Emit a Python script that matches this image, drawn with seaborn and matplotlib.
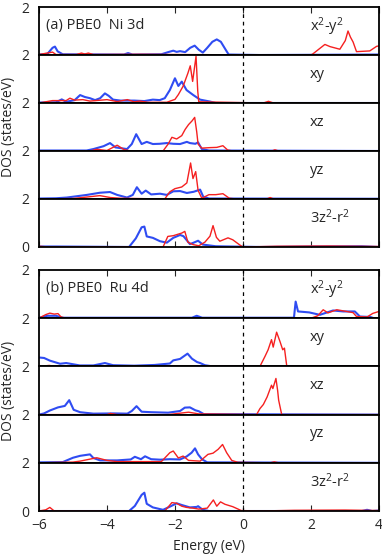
import numpy as np
import pandas as pd
import matplotlib
matplotlib.use('Agg')
import matplotlib.pyplot as plt
import seaborn as sns

# energy (eV), DOS (states/eV) knots
ni_x2y2_blue = [(-6, 0.02), (-5.75, 0.05), (-5.6, 0.3), (-5.53, 0.35), (-5.45, 0.15), (-5.3, 0.03),
                (-3.5, 0.02), (-3.38, 0.08), (-3.25, 0.02), (-2.4, 0.03), (-2.2, 0.12), (-2.05, 0.18),
                (-1.95, 0.13), (-1.85, 0.16), (-1.7, 0.12), (-1.55, 0.3), (-1.42, 0.39), (-1.3, 0.22),
                (-1.18, 0.1), (-1.05, 0.3), (-0.9, 0.55), (-0.77, 0.65), (-0.65, 0.55), (-0.5, 0.2),
                (-0.42, 0.02), (0.5, 0.0), (4, 0.02)]
ni_x2y2_red = [(-6, 0.02), (-5.6, 0.12), (-5.5, 0.02), (-4.9, 0.02), (-4.75, 0.08), (-4.65, 0.04),
               (-4.55, 0.08), (-4.4, 0.02), (-3.0, 0.03), (-2.0, 0.02), (-0.5, 0.01), (2.0, 0.0),
               (2.06, 0.05), (2.41, 0.44), (2.56, 0.35), (2.85, 0.24), (3.01, 0.6), (3.09, 1.0),
               (3.16, 0.75), (3.24, 0.54), (3.34, 0.14), (3.73, 0.17), (3.93, 0.36), (4.0, 0.38)]

ni_xy_blue = [(-6, 0.02), (-5.5, 0.03), (-5.33, 0.15), (-5.2, 0.05), (-4.95, 0.12), (-4.79, 0.33),
              (-4.65, 0.25), (-4.5, 0.2), (-4.35, 0.12), (-4.2, 0.2), (-4.06, 0.4), (-3.95, 0.3),
              (-3.82, 0.14), (-3.6, 0.1), (-3.2, 0.1), (-2.9, 0.08), (-2.65, 0.14), (-2.45, 0.12),
              (-2.3, 0.2), (-2.15, 0.54), (-2.0, 1.03), (-1.9, 0.71), (-1.8, 0.89), (-1.66, 0.54),
              (-1.46, 0.33), (-1.26, 0.14), (-0.97, 0.06), (-0.8, 0.0), (4.0, 0.0)]
ni_xy_red = [(-6, 0.0), (-5.6, 0.1), (-5.2, 0.1), (-5.09, 0.2), (-4.95, 0.12), (-4.71, 0.14),
             (-4.5, 0.08), (-4.0, 0.14), (-3.7, 0.06), (-3.4, 0.14), (-3.2, 0.05), (-3.03, 0.08),
             (-2.8, 0.03), (-2.24, 0.03), (-2.0, 0.15), (-1.9, 0.35), (-1.76, 0.7), (-1.62, 1.24),
             (-1.55, 1.55), (-1.48, 0.9), (-1.38, 1.95), (-1.33, 0.5), (-1.3, 0.05), (0.6, 0.0),
             (0.75, 0.07), (0.9, 0.0), (4.0, 0.0)]

ni_xz_blue = [(-6, 0.02), (-4.6, 0.02), (-4.4, 0.08), (-4.1, 0.2), (-3.91, 0.33), (-3.75, 0.15),
              (-3.41, 0.08), (-3.27, 0.29), (-3.14, 0.7), (-2.98, 0.29), (-2.83, 0.38), (-2.65, 0.29),
              (-2.45, 0.3), (-2.24, 0.33), (-2.05, 0.3), (-1.85, 0.29), (-1.65, 0.38), (-1.56, 0.33),
              (-1.4, 0.3), (-1.32, 0.36), (-1.21, 0.08), (-1.0, 0.02), (4, 0.0)]
ni_xz_red = [(-6, 0.0), (-4.5, 0.0), (-4.3, 0.07), (-4.0, 0.02), (-3.7, 0.24), (-3.5, 0.06),
             (-3.3, 0.0), (-2.35, 0.0), (-2.2, 0.29), (-2.09, 0.57), (-1.95, 0.5), (-1.8, 0.64),
             (-1.7, 0.9), (-1.6, 1.1), (-1.5, 1.25), (-1.42, 1.4), (-1.36, 0.8), (-1.32, 0.29),
             (-1.21, 0.12), (-0.97, 0.14), (-0.77, 0.15), (-0.59, 0.22), (-0.45, 0.04), (-0.3, 0.0),
             (0.85, 0.0), (0.94, 0.05), (1.05, 0.0), (4, 0.0)]

ni_yz_blue = [(-6, 0.02), (-5.5, 0.03), (-5.18, 0.06), (-4.59, 0.17), (-4.21, 0.26), (-3.91, 0.29),
              (-3.7, 0.17), (-3.41, 0.06), (-3.24, 0.17), (-3.12, 0.49), (-2.98, 0.22), (-2.86, 0.35),
              (-2.7, 0.19), (-2.44, 0.22), (-2.24, 0.17), (-2.05, 0.32), (-1.85, 0.33), (-1.65, 0.25),
              (-1.45, 0.3), (-1.26, 0.39), (-1.17, 0.1), (-1.0, 0.02), (4, 0.01)]
ni_yz_red = [(-6, 0.0), (-5.0, 0.02), (-4.6, 0.08), (-4.21, 0.14), (-3.9, 0.06), (-3.6, 0.03),
             (-2.3, 0.0), (-2.15, 0.3), (-2.0, 0.43), (-1.8, 0.5), (-1.65, 0.67), (-1.54, 1.5),
             (-1.47, 0.85), (-1.39, 1.14), (-1.32, 0.36), (-1.21, 0.03), (-1.0, 0.18), (-0.8, 0.18),
             (-0.59, 0.22), (-0.4, 0.03), (-0.2, 0.0), (0.7, 0.0), (0.8, 0.06), (0.9, 0.0), (4, 0.0)]

ni_z2_blue = [(-6, 0.02), (-5.5, 0.02), (-3.35, 0.0), (-3.15, 0.36), (-2.98, 0.82), (-2.9, 0.85),
              (-2.83, 0.44), (-2.65, 0.38), (-2.44, 0.24), (-2.24, 0.18), (-2.05, 0.38), (-1.85, 0.5),
              (-1.75, 0.45), (-1.56, 0.12), (-1.45, 0.18), (-1.32, 0.26), (-1.18, 0.1), (-0.8, 0.03),
              (0.5, 0.0), (2.0, 0.02), (3.5, 0.03), (4, 0.0)]
ni_z2_red = [(-6, 0.03), (-5.7, 0.0), (-2.35, 0.0), (-2.21, 0.44), (-2.05, 0.47), (-1.8, 0.58),
             (-1.71, 0.65), (-1.62, 0.2), (-1.47, 0.1), (-1.3, 0.05), (-1.12, 0.2), (-0.97, 0.45),
             (-0.88, 0.89), (-0.78, 0.4), (-0.68, 0.24), (-0.44, 0.38), (-0.3, 0.3), (-0.09, 0.08),
             (0.0, 0.0), (1.0, 0.03), (2.5, 0.04), (4, 0.02)]

ru_x2y2_blue = [(-6, 0.02), (-5.75, 0.1), (-5.5, 0.1), (-5.3, 0.02), (-1.5, 0.02), (-1.36, 0.1),
                (-1.2, 0.02), (1.5, 0.02), (1.55, 0.69), (1.62, 0.28), (1.95, 0.24), (2.26, 0.14),
                (2.65, 0.32), (2.95, 0.28), (3.29, 0.28), (3.44, 0.07), (3.75, 0.05), (3.85, 0.0),
                (4, 0.0)]
ru_x2y2_red = [(-6, 0.0), (-5.8, 0.15), (-5.68, 0.21), (-5.55, 0.17), (-5.44, 0.19), (-5.35, 0.05),
               (-5.2, 0.0), (2.0, 0.0), (2.2, 0.1), (2.36, 0.35), (2.5, 0.22), (2.76, 0.35),
               (3.05, 0.28), (3.24, 0.23), (3.34, 0.07), (3.65, 0.05), (3.82, 0.2), (4, 0.28)]

ru_xy_blue = [(-6, 0.37), (-5.85, 0.35), (-5.68, 0.24), (-5.38, 0.11), (-5.2, 0.14), (-4.8, 0.04),
              (-4.4, 0.04), (-4.06, 0.14), (-3.82, 0.05), (-3.2, 0.03), (-2.6, 0.06), (-2.15, 0.12),
              (-2.05, 0.25), (-1.85, 0.31), (-1.63, 0.53), (-1.5, 0.32), (-1.35, 0.18), (-1.26, 0.14),
              (-1.12, 0.05), (-0.9, 0.0), (4, 0.0)]
ru_xy_red = [(-6, 0.0), (-5.7, 0.04), (-5.5, 0.0), (-4.5, 0.03), (-3.5, 0.02), (0.5, 0.0),
             (0.65, 0.42), (0.74, 0.69), (0.84, 1.11), (0.89, 0.8), (0.99, 1.42), (1.09, 1.03),
             (1.17, 0.69), (1.22, 0.76), (1.29, 0.0), (4, 0.0)]

ru_xz_blue = [(-6, 0.0), (-5.85, 0.05), (-5.68, 0.17), (-5.44, 0.3), (-5.24, 0.36), (-5.11, 0.6),
              (-4.98, 0.2), (-4.79, 0.1), (-4.4, 0.04), (-3.8, 0.05), (-3.4, 0.04), (-3.27, 0.15),
              (-3.13, 0.35), (-2.98, 0.12), (-2.7, 0.1), (-2.2, 0.08), (-1.85, 0.15), (-1.71, 0.29),
              (-1.56, 0.3), (-1.4, 0.18), (-1.3, 0.14), (-1.15, 0.02), (4, 0.0)]
ru_xz_red = [(-6, 0.0), (-4.0, 0.0), (-3.9, 0.05), (-3.7, 0.0), (-2.2, 0.0), (-1.9, 0.05),
             (-1.6, 0.1), (-1.3, 0.03), (0.4, 0.0), (0.5, 0.25), (0.6, 0.42), (0.71, 0.73),
             (0.84, 1.22), (0.88, 1.08), (0.97, 1.5), (1.02, 1.0), (1.05, 0.6), (1.14, 0.0), (4, 0.0)]

ru_yz_blue = [(-6, 0.02), (-5.3, 0.03), (-5.0, 0.21), (-4.79, 0.29), (-4.5, 0.35), (-4.4, 0.2),
              (-4.2, 0.1), (-3.7, 0.1), (-3.3, 0.14), (-3.18, 0.25), (-3.0, 0.15), (-2.88, 0.27),
              (-2.7, 0.15), (-2.44, 0.13), (-2.15, 0.15), (-1.85, 0.14), (-1.66, 0.26), (-1.51, 0.42),
              (-1.41, 0.6), (-1.32, 0.35), (-1.2, 0.14), (-1.05, 0.02), (4, 0.0)]
ru_yz_red = [(-6, 0.0), (-5.0, 0.03), (-4.79, 0.07), (-4.3, 0.21), (-4.0, 0.1), (-3.7, 0.05),
             (-2.4, 0.05), (-2.15, 0.42), (-2.05, 0.49), (-1.9, 0.2), (-1.76, 0.28), (-1.6, 0.1),
             (-1.26, 0.07), (-1.03, 0.35), (-0.88, 0.4), (-0.73, 0.56), (-0.6, 0.76), (-0.48, 0.42),
             (-0.33, 0.1), (-0.15, 0.02), (0.8, 0.0), (0.92, 0.04), (1.05, 0.0), (4, 0.0)]

ru_z2_blue = [(-6, 0.0), (-3.35, 0.0), (-3.18, 0.21), (-2.98, 0.67), (-2.9, 0.76), (-2.83, 0.3),
              (-2.65, 0.15), (-2.35, 0.05), (-2.15, 0.18), (-1.95, 0.32), (-1.8, 0.25), (-1.56, 0.15),
              (-1.36, 0.17), (-1.32, 0.2), (-1.18, 0.05), (-1.0, 0.0), (3.5, 0.0), (3.65, 0.05),
              (3.8, 0.0), (4, 0.02)]
ru_z2_red = [(-6, 0.0), (-5.8, 0.05), (-5.68, 0.15), (-5.55, 0.0), (-2.3, 0.0), (-2.09, 0.35),
             (-1.95, 0.32), (-1.8, 0.2), (-1.66, 0.15), (-1.47, 0.12), (-1.3, 0.08), (-1.05, 0.12),
             (-0.87, 0.46), (-0.77, 0.2), (-0.66, 0.38), (-0.53, 0.28), (-0.3, 0.18), (-0.05, 0.02),
             (0.5, 0.0), (1.5, 0.03), (3.0, 0.04), (4, 0.02)]

orbital_labels = ['x$^2$-y$^2$', 'xy', 'xz', 'yz', '3z$^2$-r$^2$']
panel_titles = ['(a) PBE0  Ni 3d', '(b) PBE0  Ru 4d']
ni_curves = [(ni_x2y2_blue, ni_x2y2_red), (ni_xy_blue, ni_xy_red), (ni_xz_blue, ni_xz_red),
             (ni_yz_blue, ni_yz_red), (ni_z2_blue, ni_z2_red)]
ru_curves = [(ru_x2y2_blue, ru_x2y2_red), (ru_xy_blue, ru_xy_red), (ru_xz_blue, ru_xz_red),
             (ru_yz_blue, ru_yz_red), (ru_z2_blue, ru_z2_red)]
xticks = [-6, -4, -2, 0, 2, 4]

sns.set_style('ticks')
plt.rcParams['font.family'] = ['Open Sans', 'DejaVu Sans']
plt.rcParams['mathtext.fontset'] = 'custom'
plt.rcParams['mathtext.rm'] = 'Open Sans'
plt.rcParams['mathtext.default'] = 'regular'
plt.rcParams['font.size'] = 10

blue = '#2f4cf2'
red = '#f52020'

fig = plt.figure(figsize=(3.82, 5.56), dpi=100)
gs_a = fig.add_gridspec(5, 1, left=0.102, right=0.992, top=0.9874, bottom=0.5558, hspace=0)
gs_b = fig.add_gridspec(5, 1, left=0.102, right=0.992, top=0.5144, bottom=0.0809, hspace=0)

for gs, curves, title in [(gs_a, ni_curves, panel_titles[0]), (gs_b, ru_curves, panel_titles[1])]:
    for i, (cb, cr) in enumerate(curves):
        ax = fig.add_subplot(gs[i, 0])
        db = pd.DataFrame(cb, columns=['E', 'dos'])
        dr = pd.DataFrame(cr, columns=['E', 'dos'])
        sns.lineplot(data=db, x='E', y='dos', ax=ax, color=blue, lw=1.5, estimator=None, sort=False)
        sns.lineplot(data=dr, x='E', y='dos', ax=ax, color=red, lw=1.0, estimator=None, sort=False)
        ax.axvline(0, color='black', ls=(0, (3, 3)), lw=0.9)
        ax.set_xlim(-6, 4)
        ax.set_ylim(0, 2)
        ax.set_xticks(xticks)
        ax.set_xlabel('')
        ax.set_ylabel('')
        for s in ax.spines.values():
            s.set_linewidth(1.3)
            s.set_color('black')
        ax.tick_params(axis='x', direction='in', length=4, width=0.8,
                       top=(i == 0), bottom=(i == 4), labelbottom=False)
        ax.set_yticks([0, 2] if i == 4 else [2])
        ax.tick_params(axis='y', length=0, pad=7, labelsize=10)
        ax.text(0.797, 0.6, orbital_labels[i], transform=ax.transAxes, va='center', ha='left', fontsize=10.5)
        if i == 0:
            ax.text(0.02, 0.62, title, transform=ax.transAxes, va='center', ha='left', fontsize=10.5)
        last_ax = ax

last_ax.tick_params(axis='x', labelbottom=True, labelsize=10, pad=5)
last_ax.set_xlabel('Energy (eV)', fontsize=10, labelpad=4)

fig.text(0.022, (0.9874 + 0.5558) / 2, 'DOS (states/eV)', rotation=90, va='center', ha='center', fontsize=10)
fig.text(0.022, (0.5144 + 0.0809) / 2, 'DOS (states/eV)', rotation=90, va='center', ha='center', fontsize=10)

fig.savefig('out.png', dpi=100)
